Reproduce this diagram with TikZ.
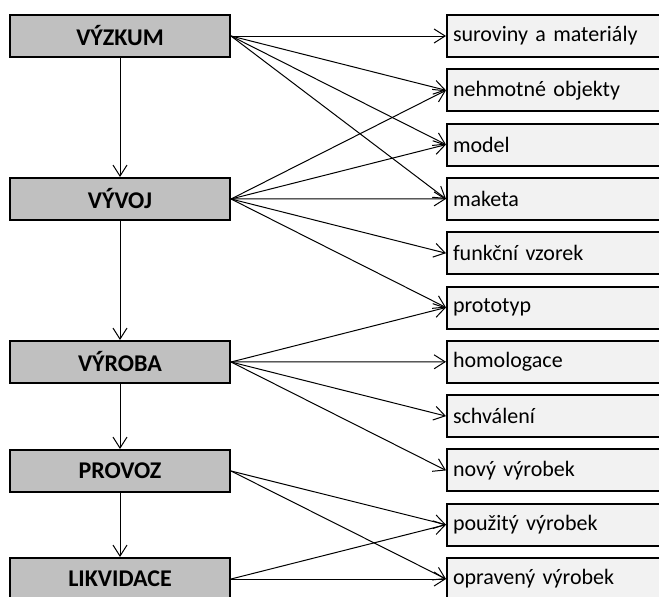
\documentclass[tikz,border=0pt]{standalone}
\usepackage{fontspec}
\setmainfont[WordSpace=0.8]{Carlito}
\usetikzlibrary{arrows.meta}
\definecolor{leftfill}{HTML}{C0C0C0}
\definecolor{rightfill}{HTML}{F2F2F2}
\tikzset{
  x=1pt, y=1pt,
  phase/.style={draw=black, line width=2pt, fill=leftfill, minimum width=220pt, minimum height=42pt, inner sep=0pt, font=\fontsize{24}{28}\selectfont\bfseries},
  item/.style={draw=black, line width=2pt, fill=rightfill, minimum width=240pt, minimum height=42pt, text width=228pt, inner xsep=6pt, inner ysep=0pt, align=left, anchor=west, font=\fontsize{22}{26}\selectfont},
  arr/.style={draw=black, line width=1pt, -{Straight Barb[length=11pt,width=14pt,line width=1pt]}},
}
\begin{document}
\begin{tikzpicture}
\useasboundingbox (0,0) rectangle (659,-597);
\clip (0,0) rectangle (659,-597);
\fill[white] (0,0) rectangle (659,-597);
\node[phase] (vyzkum) at (120,-36) {VÝZKUM};
\node[phase] (vyvoj) at (120,-199) {VÝVOJ};
\node[phase] (vyroba) at (120,-362) {VÝROBA};
\node[phase] (provoz) at (120,-471) {PROVOZ};
\node[phase] (likvidace) at (120,-579) {LIKVIDACE};
\node[item] (r1) at (446,-36) {suroviny a materiály};
\node[item] (r2) at (446,-90.3) {nehmotné objekty};
\node[item] (r3) at (446,-144.6) {model};
\node[item] (r4) at (446,-198.9) {maketa};
\node[item] (r5) at (446,-253.2) {funkční vzorek};
\node[item] (r6) at (446,-307.5) {prototyp};
\node[item] (r7) at (446,-361.8) {homologace};
\node[item] (r8) at (446,-416.1) {schválení};
\node[item] (r9) at (446,-470.4) {nový výrobek};
\node[item] (r10) at (446,-524.7) {použitý výrobek};
\node[item] (r11) at (446,-579) {opravený výrobek};
\draw[arr] (vyzkum.south) -- (vyvoj.north);
\draw[arr] (vyvoj.south) -- (vyroba.north);
\draw[arr] (vyroba.south) -- (provoz.north);
\draw[arr] (provoz.south) -- (likvidace.north);
\foreach \t in {r1,r2,r3,r4} \draw[arr] (vyzkum.east) -- (\t.west);
\foreach \t in {r2,r3,r4,r5,r6} \draw[arr] (vyvoj.east) -- (\t.west);
\foreach \t in {r6,r7,r8,r9} \draw[arr] (vyroba.east) -- (\t.west);
\foreach \t in {r10,r11} \draw[arr] (provoz.east) -- (\t.west);
\foreach \t in {r10,r11} \draw[arr] (likvidace.east) -- (\t.west);
\end{tikzpicture}
\end{document}
